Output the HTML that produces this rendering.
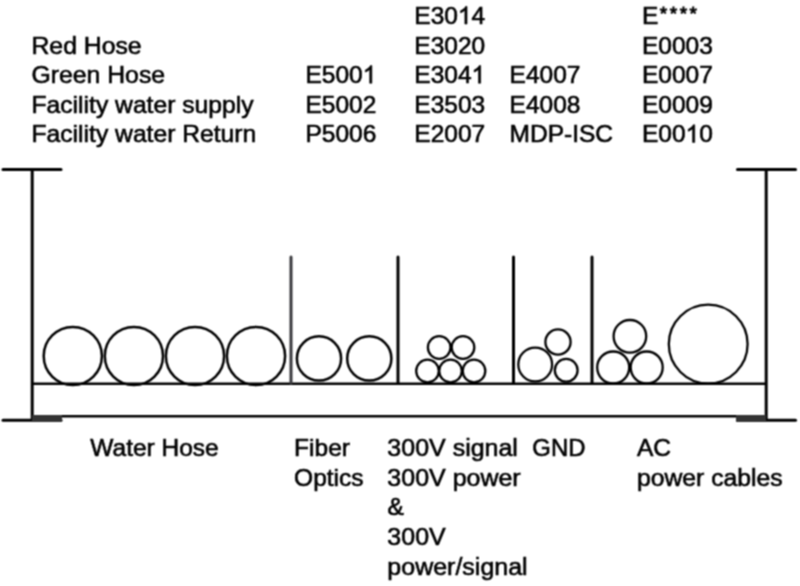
<!DOCTYPE html>
<html><head><meta charset="utf-8">
<style>
html,body{margin:0;padding:0;background:#fff;width:800px;height:586px;overflow:hidden}
svg{display:block}
#w{width:800px;height:586px}
.h{fill:none;stroke:none}
text{font-family:"Liberation Sans",sans-serif;font-size:24.5px;fill:#000;stroke:#000;stroke-width:0.6px}
</style></head><body><div id="w">
<svg width="800" height="586" viewBox="0 0 800 586"><defs><filter id="bl" color-interpolation-filters="sRGB" filterUnits="userSpaceOnUse" x="0" y="0" width="800" height="586"><feConvolveMatrix order="3" kernelMatrix="1 2 1 2 4 2 1 2 1" divisor="16" edgeMode="duplicate" preserveAlpha="true"/></filter></defs><g filter="url(#bl)"><rect x="0" y="0" width="800" height="586" fill="#fff"/>
<g>
<text x="31.5" y="53.6" transform="matrix(1.012,0,0,1,-0.396,0)">Red Hose</text>
<text x="31.5" y="83.2" transform="matrix(1.012,0,0,1,-0.396,0)">Green Hose</text>
<text x="31.5" y="112.8" transform="matrix(1.007,0,0,1,-0.231,0)">Facility water supply</text>
<text x="31.5" y="142.4" transform="matrix(1.007,0,0,1,-0.231,0)">Facility water Return</text>
<text x="305.5" y="83.2">E500<tspan class="h">1</tspan></text>
<text x="305.5" y="112.8">E5002</text>
<text x="305.5" y="142.4">P5006</text>
<text x="414.3" y="24">E30<tspan class="h">1</tspan>4</text>
<text x="414.3" y="53.6">E3020</text>
<text x="414.3" y="83.2">E304<tspan class="h">1</tspan></text>
<text x="414.3" y="112.8">E3503</text>
<text x="414.3" y="142.4">E2007</text>
<text x="509.6" y="83.2">E4007</text>
<text x="509.6" y="112.8">E4008</text>
<text x="509.6" y="142.4">MDP-ISC</text>
<text x="642" y="24">E<tspan style="font-size:19px;letter-spacing:2.5px;stroke-width:0.8px" dx="1.5" dy="-4">****</tspan></text>
<text x="642" y="53.6">E0003</text>
<text x="642" y="83.2">E0007</text>
<text x="642" y="112.8">E0009</text>
<text x="642" y="142.4">E00<tspan class="h">1</tspan>0</text>

<text x="90.3" y="456">Water Hose</text>
<text x="294.1" y="456">Fiber</text>
<text x="294.1" y="485.7">Optics</text>
<text x="387.4" y="456" transform="matrix(1.02,0,0,1,-7.768,0)">300V signal</text>
<text x="387.4" y="485.7" transform="matrix(1.02,0,0,1,-7.768,0)">300V power</text>
<text x="387.4" y="515.4">&amp;</text>
<text x="387.4" y="545.1" transform="matrix(1.02,0,0,1,-7.768,0)">300V</text>
<text x="387.4" y="574.8" transform="matrix(1.02,0,0,1,-7.768,0)">power/signal</text>
<text x="532.3" y="456" transform="matrix(0.975,0,0,1,13.33,0)">GND</text>
<text x="637" y="456">AC</text>
<text x="637" y="485.7" transform="matrix(1.01,0,0,1,-6.37,0)">power cables</text>
</g>
<g fill="#000" stroke="#000" stroke-width="0.6">
<path vector-effect="non-scaling-stroke" transform="matrix(0.011963,0,0,-0.011963,362.719,83.2)" d="M763,0 L583,0 L583,1147 Q518,1085 412,1023 Q305,961 220,930 L220,1104 Q371,1175 484,1276 Q597,1377 644,1472 L763,1472 Z"/>
<path vector-effect="non-scaling-stroke" transform="matrix(0.011963,0,0,-0.011963,457.894,24)" d="M763,0 L583,0 L583,1147 Q518,1085 412,1023 Q305,961 220,930 L220,1104 Q371,1175 484,1276 Q597,1377 644,1472 L763,1472 Z"/>
<path vector-effect="non-scaling-stroke" transform="matrix(0.011963,0,0,-0.011963,471.519,83.2)" d="M763,0 L583,0 L583,1147 Q518,1085 412,1023 Q305,961 220,930 L220,1104 Q371,1175 484,1276 Q597,1377 644,1472 L763,1472 Z"/>
<path vector-effect="non-scaling-stroke" transform="matrix(0.011963,0,0,-0.011963,685.594,142.4)" d="M763,0 L583,0 L583,1147 Q518,1085 412,1023 Q305,961 220,930 L220,1104 Q371,1175 484,1276 Q597,1377 644,1472 L763,1472 Z"/>
</g>
<g stroke="#000" fill="none">
<!-- brackets -->
<line x1="3" y1="169.5" x2="61" y2="169.5" stroke-width="3" stroke-linecap="round"/>
<line x1="32.2" y1="169.5" x2="32.2" y2="420" stroke-width="3"/>
<line x1="3" y1="420.3" x2="61" y2="420.3" stroke-width="3" stroke-linecap="round"/>
<line x1="737.5" y1="169.5" x2="795.5" y2="169.5" stroke-width="3" stroke-linecap="round"/>
<line x1="766.2" y1="169.5" x2="766.2" y2="420" stroke-width="3"/>
<line x1="737.5" y1="420.3" x2="795.5" y2="420.3" stroke-width="3" stroke-linecap="round"/>
<!-- tray -->
<line x1="32" y1="383.8" x2="766" y2="383.8" stroke-width="2.5"/>
<line x1="32" y1="416.2" x2="766" y2="416.2" stroke-width="2.6"/>
<rect x="32" y="415" width="30" height="6.8" fill="#333" stroke="none"/>
<rect x="736" y="415" width="30" height="6.8" fill="#333" stroke="none"/>
<!-- dividers -->
<line x1="291" y1="257" x2="291" y2="383" stroke-width="3" stroke-linecap="round" stroke="#3a3a3e"/>
<line x1="398" y1="257" x2="398" y2="383" stroke-width="3" stroke-linecap="round"/>
<line x1="513.5" y1="257" x2="513.5" y2="383" stroke-width="3" stroke-linecap="round"/>
<line x1="592" y1="257" x2="592" y2="383" stroke-width="3" stroke-linecap="round"/>
</g>
<g stroke="#000" fill="none" stroke-width="2.5">
<circle cx="72.8" cy="356" r="29.1"/>
<circle cx="133.9" cy="356" r="29.1"/>
<circle cx="195" cy="356" r="29.1"/>
<circle cx="256" cy="356" r="29.1"/>
<circle cx="319" cy="358.4" r="22.1"/>
<circle cx="369.3" cy="358.4" r="22.1"/>
</g>
<g stroke="#000" fill="none" stroke-width="2.3">
<circle cx="427.5" cy="371" r="11.3"/>
<circle cx="450.5" cy="371" r="11.3"/>
<circle cx="474" cy="371" r="11.3"/>
<circle cx="439.2" cy="347.5" r="11.3"/>
<circle cx="463" cy="347.5" r="11.3"/>
<circle cx="535.2" cy="364.5" r="16.9"/>
<circle cx="566.2" cy="370.3" r="11.4"/>
<circle cx="558" cy="342" r="12.6"/>
<circle cx="613.2" cy="367.5" r="16"/>
<circle cx="646.7" cy="367.5" r="16"/>
<circle cx="629.9" cy="336.3" r="16.3"/>
<circle cx="708.2" cy="344.1" r="39.4"/>
</g>
</g></svg></div>
</body></html>
